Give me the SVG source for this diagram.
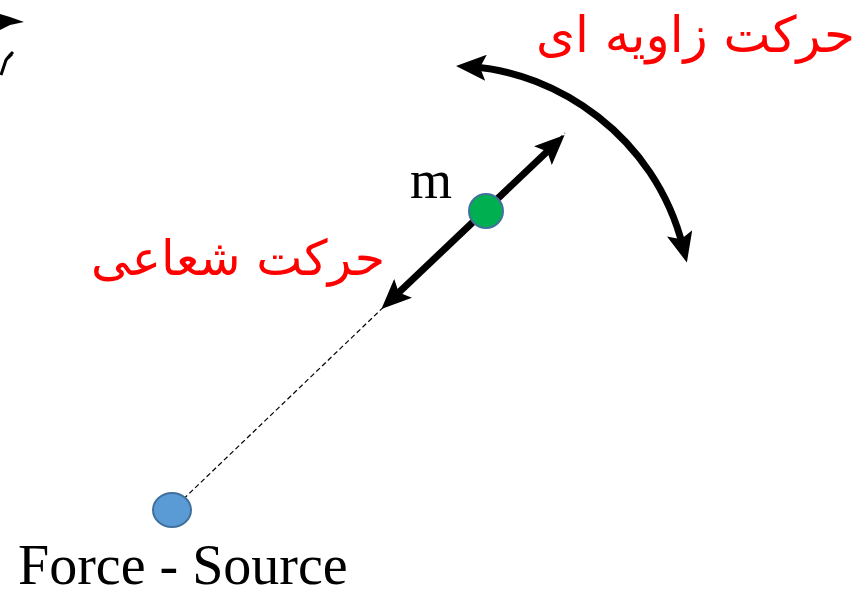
<svg xmlns="http://www.w3.org/2000/svg" width="862" height="595" viewBox="0 0 862 595">
<style>
.red{fill:#ff0000;font-family:"DejaVu Sans",sans-serif}
.blk{fill:#000;font-family:"Liberation Serif",serif}
.thick{stroke:#000;stroke-width:7;fill:none}
</style>
<defs>
<marker id="ah" viewBox="0 0 30 26" refX="14" refY="13" markerWidth="30" markerHeight="26" orient="auto-start-reverse" markerUnits="userSpaceOnUse">
<path d="M0,0 L30,13 L0,26 L6,13 Z" fill="#000"/>
</marker>
</defs>
<rect width="862" height="595" fill="#fff"/>
<g id="fragment">
<path d="M0,14 L10,17 L24,22 L10,25 L0,30 Z" fill="#000"/>
<path d="M1,75 L6,60 L10,55 L13,52 M8,58 L12,54" stroke="#000" stroke-width="3" fill="none"/>
</g>
<g id="connectors">
<line x1="172" y1="510" x2="565" y2="133" stroke="#000" stroke-width="1.2" stroke-dasharray="5,3"/>
<line class="thick" x1="393" y1="298" x2="553" y2="146" marker-start="url(#ah)" marker-end="url(#ah)"/>
<path class="thick" d="M472,67 C555,72 655,135 683,247" marker-start="url(#ah)" marker-end="url(#ah)"/>
</g>
<g id="source">
<ellipse cx="172" cy="510" rx="19" ry="17" fill="#5B9BD5" stroke="#41719C" stroke-width="2"/>
</g>
<g id="mass">
<circle cx="486" cy="211" r="17" fill="#00B050" stroke="#41719C" stroke-width="2"/>
</g>
<text class="blk" x="410" y="198" font-size="54">m</text>
<text class="blk" x="18" y="584" font-size="56">Force - Source</text>
<text class="red" x="855" y="52" font-size="50" text-anchor="end">حرکت زاویه ای</text>
<text class="red" x="385" y="275" font-size="49" text-anchor="end">حرکت شعاعی</text>
</svg>
